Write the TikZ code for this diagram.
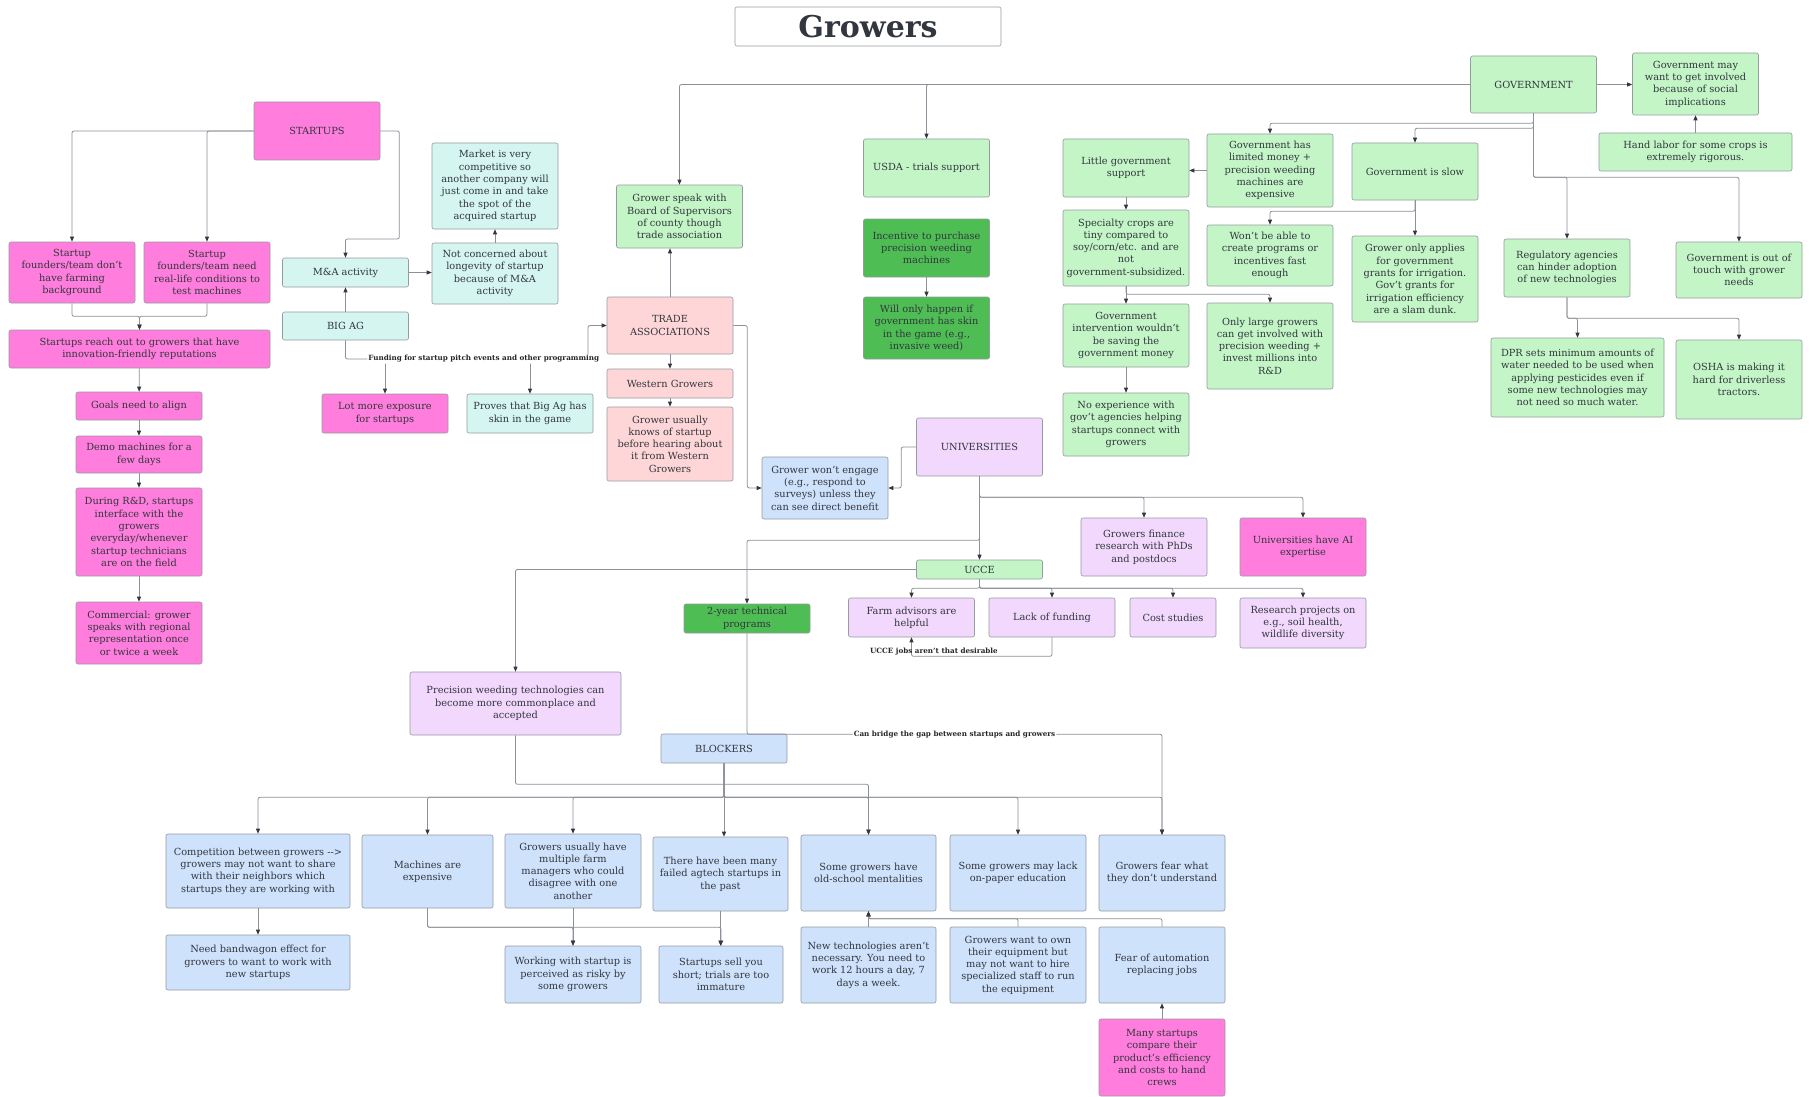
\documentclass[tikz,border=0pt]{standalone}
\usepackage{fontspec}
\setmainfont{DejaVu Serif}
\usepackage{xcolor}
\usetikzlibrary{arrows.meta}

\definecolor{cMag}{RGB}{255,125,220}
\definecolor{cGreen}{RGB}{195,245,198}
\definecolor{cDark}{RGB}{78,190,84}
\definecolor{cCyan}{RGB}{213,246,240}
\definecolor{cRose}{RGB}{255,214,216}
\definecolor{cBlue}{RGB}{207,226,252}
\definecolor{cLav}{RGB}{242,216,252}
\definecolor{cLine}{RGB}{140,144,152}
\definecolor{cTip}{RGB}{50,55,65}
\definecolor{cText}{RGB}{50,54,62}
\definecolor{cBorder}{RGB}{150,155,160}

\begin{document}
\begin{tikzpicture}[
  x=1pt, y=-1pt,
  nbox/.style={
    rectangle, rounded corners=2pt,
    draw=cBorder, line width=0.6pt,
    minimum width=126, inner xsep=3pt, inner ysep=2pt,
    align=center, text=cText, font=\fontsize{9.8}{12.3}\selectfont
  },
  mbox/.style={nbox, fill=cMag},
  gbox/.style={nbox, fill=cGreen},
  dbox/.style={nbox, fill=cDark},
  cbox/.style={nbox, fill=cCyan},
  rbox/.style={nbox, fill=cRose},
  bbox/.style={nbox, fill=cBlue},
  lbox/.style={nbox, fill=cLav},
  tbox/.style={
    rectangle, rounded corners=2pt, draw=cBorder, line width=0.6pt,
    fill=white, minimum width=266, minimum height=39,
    text=cText, font=\fontsize{30}{34}\selectfont\bfseries
  },
  arr/.style={draw=cLine, line width=0.8pt, rounded corners=2pt,
    -{Triangle[length=5pt,width=4pt,color=cTip]}},
  lbl/.style={font=\fontsize{7.2}{8}\selectfont\bfseries, text=black!85,
    fill=white, inner sep=1pt},
  lbx/.style={font=\fontsize{7.2}{8}\selectfont\bfseries, text=black!85,
    inner sep=1pt},
]

\fill[white] (0,0) rectangle (1810,1097);
\useasboundingbox (0,0) rectangle (1810,1097);

%% ── Title ────────────────────────────────────────────────────────
\node[tbox] (title) at (868,26.5) {Growers};

%% ── Startups ─────────────────────────────────────────────────────
\node[mbox, minimum height=58] (startups) at (317,131) {STARTUPS};
\node[mbox, minimum height=61] (nofarm) at (72,272.5)
      {Startup\\founders/team don't\\have farming\\background};
\node[mbox, minimum height=61] (reallife) at (207,272.5)
      {Startup\\founders/team need\\real-life conditions to\\test machines};
\node[mbox, minimum width=261, minimum height=38] (reachout) at (139.5,349)
      {Startups reach out to growers that have\\innovation-friendly reputations};
\node[mbox, minimum height=28] (goals) at (139,406) {Goals need to align};
\node[mbox, minimum height=37] (demo) at (139,454.5) {Demo machines for a\\few days};
\node[mbox, minimum height=88] (rnd) at (139,532)
      {During R\&D, startups\\interface with the\\growers\\everyday/whenever\\startup technicians\\are on the field};
\node[mbox, minimum height=62] (commercial) at (139,633)
      {Commercial: grower\\speaks with regional\\representation once\\or twice a week};

%% ── Big Ag / M&A ─────────────────────────────────────────────────
\node[cbox, minimum height=29] (mna) at (345.5,272.5) {M\&A activity};
\node[cbox, minimum height=61] (notconc) at (495,273.5)
      {Not concerned about\\longevity of startup\\because of M\&A\\activity};
\node[cbox, minimum height=86] (market) at (495,186)
      {Market is very\\competitive so\\another company will\\just come in and take\\the spot of the\\acquired startup};
\node[cbox, minimum height=28] (bigag) at (345.5,326) {BIG AG};
\node[mbox, minimum height=39] (exposure) at (385,413.5) {Lot more exposure\\for startups};
\node[cbox, minimum height=39] (proves) at (530,413.5) {Proves that Big Ag has\\skin in the game};

%% ── Trade associations ───────────────────────────────────────────
\node[rbox, minimum height=57] (trade) at (670,325.5) {TRADE\\ASSOCIATIONS};
\node[rbox, minimum height=29] (western) at (670,383.5) {Western Growers};
\node[rbox, minimum height=74] (knows) at (670,444)
      {Grower usually\\knows of startup\\before hearing about\\it from Western\\Growers};
\node[gbox, minimum height=63] (gspeak) at (679.5,216.5)
      {Grower speak with\\Board of Supervisors\\of county though\\trade association};

%% ── Government ───────────────────────────────────────────────────
\node[gbox, minimum height=58] (usda) at (926.5,168) {USDA - trials support};
\node[dbox, minimum height=58] (incentive) at (926.5,248)
      {Incentive to purchase\\precision weeding\\machines};
\node[dbox, minimum height=62] (skin) at (926.5,328)
      {Will only happen if\\government has skin\\in the game (e.g.,\\invasive weed)};
\node[gbox, minimum height=57] (gov) at (1533.5,84.5) {GOVERNMENT};
\node[gbox, minimum height=62] (social) at (1695.5,84)
      {Government may\\want to get involved\\because of social\\implications};
\node[gbox, minimum width=193, minimum height=38] (handlabor) at (1695.5,152)
      {Hand labor for some crops is\\extremely rigorous.};
\node[gbox, minimum height=58] (littlegov) at (1126,168) {Little government\\support};
\node[gbox, minimum height=73] (limited) at (1270,170.5)
      {Government has\\limited money +\\precision weeding\\machines are\\expensive};
\node[gbox, minimum height=57] (slow) at (1415,171.5) {Government is slow};
\node[gbox, minimum height=76] (specialty) at (1126,248)
      {Specialty crops are\\tiny compared to\\soy/corn/etc. and are\\not\\government-subsidized.};
\node[gbox, minimum height=61] (wontable) at (1270,255.5)
      {Won't be able to\\create programs or\\incentives fast\\enough};
\node[gbox, minimum height=86] (irrigation) at (1415,279)
      {Grower only applies\\for government\\grants for irrigation.\\Gov't grants for\\irrigation efficiency\\are a slam dunk.};
\node[gbox, minimum height=63] (intervention) at (1126,335.5)
      {Government\\intervention wouldn't\\be saving the\\government money};
\node[gbox, minimum height=86] (onlylarge) at (1270,346)
      {Only large growers\\can get involved with\\precision weeding +\\invest millions into\\R\&D};
\node[gbox, minimum height=63] (noexp) at (1126,424.5)
      {No experience with\\gov't agencies helping\\startups connect with\\growers};
\node[gbox, minimum height=58] (regulatory) at (1567,268)
      {Regulatory agencies\\can hinder adoption\\of new technologies};
\node[gbox, minimum height=56] (outoftouch) at (1739,270)
      {Government is out of\\touch with grower\\needs};
\node[gbox, minimum width=173, minimum height=79] (dpr) at (1577.5,377.5)
      {DPR sets minimum amounts of\\water needed to be used when\\applying pesticides even if\\some new technologies may\\not need so much water.};
\node[gbox, minimum height=79] (osha) at (1739,379.5)
      {OSHA is making it\\hard for driverless\\tractors.};

%% ── Universities ─────────────────────────────────────────────────
\node[lbox, minimum height=58] (univ) at (979.5,447) {UNIVERSITIES};
\node[bbox, minimum height=62] (growerwont) at (825,488)
      {Grower won't engage\\(e.g., respond to\\surveys) unless they\\can see direct benefit};
\node[gbox, minimum height=19] (ucce) at (979.5,569.5) {UCCE};
\node[lbox, minimum height=58] (finance) at (1144,547)
      {Growers finance\\research with PhDs\\and postdocs};
\node[mbox, minimum height=58] (aiexp) at (1303,547) {Universities have AI\\expertise};
\node[dbox, minimum height=29] (twoyear) at (747,618.5) {2-year technical\\programs};
\node[lbox, minimum height=39] (farmadv) at (911.5,617.5) {Farm advisors are\\helpful};
\node[lbox, minimum height=39] (lackfund) at (1052,617.5) {Lack of funding};
\node[lbox, minimum width=86, minimum height=39] (cost) at (1173,617.5) {Cost studies};
\node[lbox, minimum height=50] (research) at (1303,623)
      {Research projects on\\e.g., soil health,\\wildlife diversity};
\node[lbox, minimum width=211, minimum height=63] (precision) at (515.5,703.5)
      {Precision weeding technologies can\\become more commonplace and\\accepted};

%% ── Blockers ─────────────────────────────────────────────────────
\node[bbox, minimum height=29] (blockers) at (724,748.5) {BLOCKERS};
\node[bbox, minimum width=184, minimum height=74] (competition) at (258,871)
      {Competition between growers -\kern0pt-\kern0pt>\\growers may not want to share\\with their neighbors which\\startups they are working with};
\node[bbox, minimum width=131, minimum height=73] (machines) at (427.5,871.5)
      {Machines are\\expensive};
\node[bbox, minimum width=136, minimum height=74] (multiple) at (573,871)
      {Growers usually have\\multiple farm\\managers who could\\disagree with one\\another};
\node[bbox, minimum width=135, minimum height=74] (failed) at (720.5,874)
      {There have been many\\failed agtech startups in\\the past};
\node[bbox, minimum width=135, minimum height=76] (oldschool) at (868.5,873)
      {Some growers have\\old-school mentalities};
\node[bbox, minimum width=136, minimum height=76] (lackedu) at (1018,873)
      {Some growers may lack\\on-paper education};
\node[bbox, minimum height=76] (fear) at (1162,873)
      {Growers fear what\\they don't understand};
\node[bbox, minimum width=184, minimum height=55] (bandwagon) at (258,962.5)
      {Need bandwagon effect for\\growers to want to work with\\new startups};
\node[bbox, minimum width=136, minimum height=57] (risky) at (573,974.5)
      {Working with startup is\\perceived as risky by\\some growers};
\node[bbox, minimum width=124, minimum height=57] (sellshort) at (721,974.5)
      {Startups sell you\\short; trials are too\\immature};
\node[bbox, minimum width=135, minimum height=76] (newtech) at (868.5,965)
      {New technologies aren't\\necessary. You need to\\work 12 hours a day, 7\\days a week.};
\node[bbox, minimum width=136, minimum height=76] (ownequip) at (1018,965)
      {Growers want to own\\their equipment but\\may not want to hire\\specialized staff to run\\the equipment};
\node[bbox, minimum height=76] (automation) at (1162,965)
      {Fear of automation\\replacing jobs};
\node[mbox, minimum height=77] (handcrews) at (1162,1057.5)
      {Many startups\\compare their\\product's efficiency\\and costs to hand\\crews};

%% ── Arrows: startups ─────────────────────────────────────────────
\draw[arr] (startups.west) -| (nofarm.north);
\draw[arr] (startups.west) -| (reallife.north);
\draw[arr] (startups.east) -- ++(19,0) -- ++(0,108) -| (mna.north);
\draw[arr] (nofarm.south) -- ++(0,13) -| (reachout.north);
\draw[arr] (reallife.south) -- ++(0,13) -| (reachout.north);
\draw[arr] (reachout) -- (goals);
\draw[arr] (goals) -- (demo);
\draw[arr] (demo) -- (rnd);
\draw[arr] (rnd) -- (commercial);

%% ── Arrows: big ag ───────────────────────────────────────────────
\draw[arr] (mna.east) -- (mna.east -| notconc.west);
\draw[arr] (notconc) -- (market);
\draw[arr] (bigag) -- (mna);
\coordinate (fund) at (345.5,359);
\draw[arr] (exposure.north |- fund) -- (exposure.north);
\draw[arr] (proves.north |- fund) -- (proves.north);
\draw[arr] (bigag.south) -- (fund)
      -- node[lbl, pos=0.57] {Funding for startup pitch events and other programming} ++(242.5,0)
      |- (trade.west);

%% ── Arrows: trade associations ───────────────────────────────────
\draw[arr] (trade.north) -- (trade.north |- gspeak.south);
\draw[arr] (trade) -- (western);
\draw[arr] (western) -- (knows);
\draw[arr] (trade.east) -- ++(14,0) |- (growerwont.west);
\draw[arr] (univ.west) -- ++(-15,0) |- (growerwont.east);

%% ── Arrows: government ───────────────────────────────────────────
\draw[arr] (gov.west) -| (gspeak.north);
\draw[arr] (gov.west) -| (usda.north);
\draw[arr] (gov.east) -- (gov.east -| social.west);
\draw[arr] (handlabor) -- (social);
\draw[arr] (gov.south) -- ++(0,10) -| (limited.north);
\draw[arr] (gov.south) -- ++(0,15) -| (slow.north);
\draw[arr] (gov.south) -- ++(0,64) -| (regulatory.north);
\draw[arr] (gov.south) -- ++(0,64) -| (outoftouch.north);
\draw[arr] (limited.west) -- (limited.west -| littlegov.east);
\draw[arr] (littlegov) -- (specialty);
\draw[arr] (specialty) -- (intervention);
\draw[arr] (specialty.south) -- ++(0,8) -| (onlylarge.north);
\draw[arr] (intervention) -- (noexp);
\draw[arr] (slow.south) -- ++(0,11) -| (wontable.north);
\draw[arr] (slow) -- (irrigation);
\draw[arr] (regulatory.south) -- ++(0,21) -| (dpr.north);
\draw[arr] (regulatory.south) -- ++(0,21) -| (osha.north);
\draw[arr] (incentive) -- (skin);

%% ── Arrows: universities ─────────────────────────────────────────
\draw[arr] (univ.south) -- ++(0,21) -| (finance.north);
\draw[arr] (univ.south) -- ++(0,21) -| (aiexp.north);
\draw[arr] (univ.south) -- ++(0,64) -| (twoyear.north);
\draw[arr] (univ) -- (ucce);
\draw[arr] (ucce.west) -| (precision.north);
\draw[arr] (ucce.south) -- ++(0,9) -| (farmadv.north);
\draw[arr] (ucce.south) -- ++(0,9) -| (lackfund.north);
\draw[arr] (ucce.south) -- ++(0,9) -| (cost.north);
\draw[arr] (ucce.south) -- ++(0,9) -| (research.north);
\draw[arr] (lackfund.south) -- ++(0,19)
      -| node[lbx, above, pos=0.42] {UCCE jobs aren't that desirable} (farmadv.south);
\draw[arr] (twoyear.south) -- ++(0,101)
      -| node[lbl, pos=0.25] {Can bridge the gap between startups and growers} (fear.north);

%% ── Arrows: blockers ─────────────────────────────────────────────
\draw[arr] (blockers.south) -- ++(0,34) -| (competition.north);
\draw[arr] (blockers.south) -- ++(0,34) -| (machines.north);
\draw[arr] (blockers.south) -- ++(0,34) -| (multiple.north);
\draw[arr] (blockers.south) -- (blockers.south |- failed.north);
\draw[arr] (blockers.south) -- ++(0,34) -| (oldschool.north);
\draw[arr] (blockers.south) -- ++(0,34) -| (lackedu.north);
\draw[arr] (blockers.south) -- ++(0,34) -| (fear.north);
\draw[arr] (precision.south) -- ++(0,49) -| (oldschool.north);
\draw[arr] (competition) -- (bandwagon);
\draw[arr] (machines.south) -- ++(0,19) -| (risky.north);
\draw[arr] (machines.south) -- ++(0,19) -| (sellshort.north);
\draw[arr] (multiple) -- (risky);
\draw[arr] (failed.south) -- (failed.south |- sellshort.north);
\draw[arr] (newtech) -- (oldschool);
\draw[arr] (ownequip.north) -- ++(0,-8) -| (oldschool.south);
\draw[arr] (automation.north) -- ++(0,-8) -| (oldschool.south);
\draw[arr] (handcrews) -- (automation);

\end{tikzpicture}
\end{document}
